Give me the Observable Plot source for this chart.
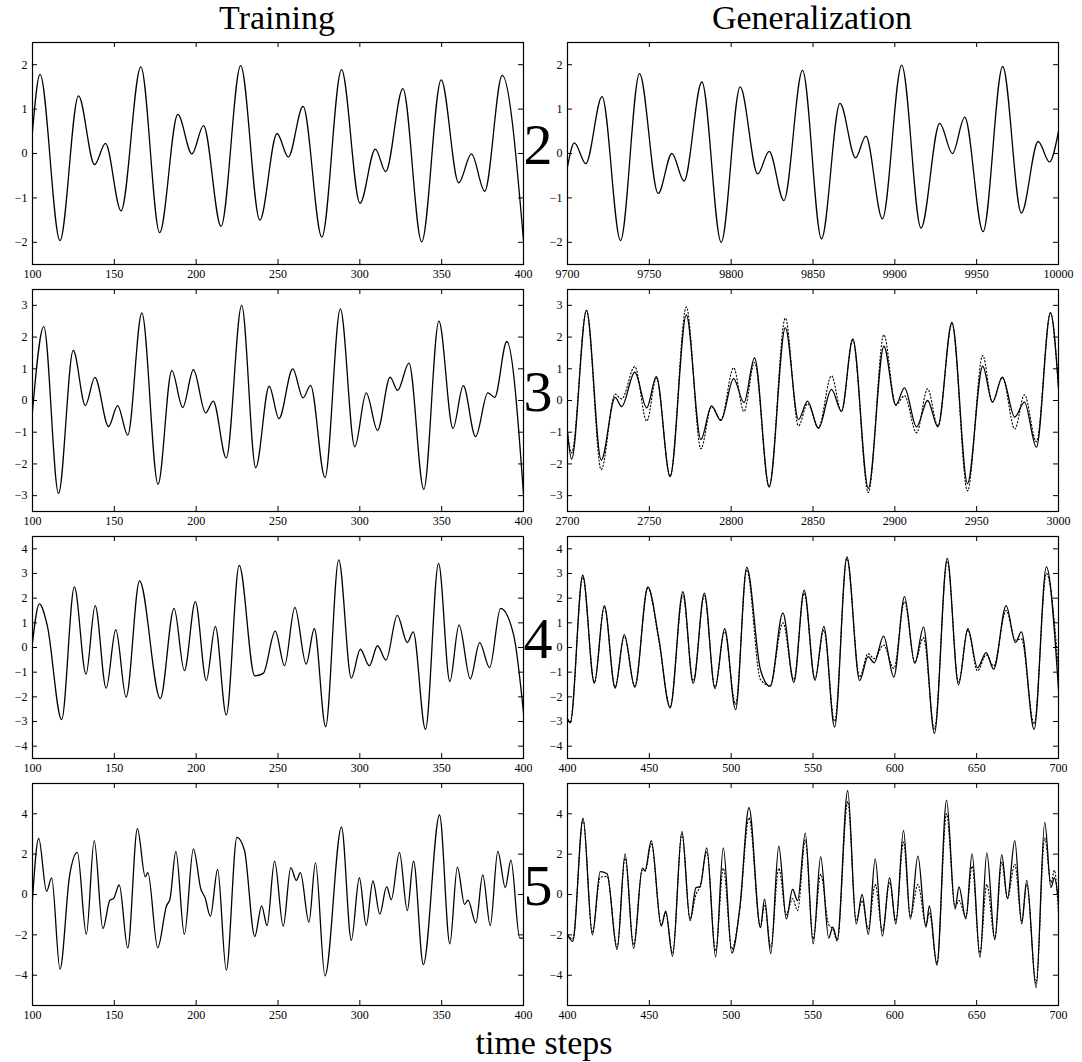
<!DOCTYPE html>
<html><head><meta charset="utf-8">
<script src="https://cdn.jsdelivr.net/npm/d3@7"></script>
<script src="https://cdn.jsdelivr.net/npm/@observablehq/plot@0.6"></script>
<style>
body{margin:0;background:#fff;}
#chart{position:relative;width:1082px;height:1062px;font-family:"Liberation Serif","Times New Roman",serif;color:#000;overflow:hidden;}
.lbl{position:absolute;white-space:nowrap;line-height:1;}
svg{position:absolute;}
</style></head><body><div id="chart"></div>
<script>
// ---------- titles ----------
const columnTitles = ["Training", "Generalization"];
const rowLabels = ["2", "3", "4", "5"];
const xAxisTitle = "time steps";

// ---------- tick values ----------
const trainXTicks = [100, 150, 200, 250, 300, 350, 400];
const gen2XTicks = [9700, 9750, 9800, 9850, 9900, 9950, 10000];
const gen3XTicks = [2700, 2750, 2800, 2850, 2900, 2950, 3000];
const gen45XTicks = [400, 450, 500, 550, 600, 650, 700];
const y2Ticks = [-2, -1, 0, 1, 2];
const y3Ticks = [-3, -2, -1, 0, 1, 2, 3];
const y4Ticks = [-4, -3, -2, -1, 0, 1, 2, 3, 4];
const y5Ticks = [-4, -2, 0, 2, 4];

// ---------- row "2" ----------
const train2T = [100, 104.6, 116.8, 128.1, 137.9, 144.6, 154.1, 166.2, 177.7, 188.8, 197.4, 204.5, 215.2, 227.2, 238.9, 249.4, 256.3, 265.3, 276.8, 288.8, 300.1, 309.5, 315.8, 326.3, 337.8, 349.7, 360.4, 368.2, 376.3, 387.0, 400];
const train2Y = [0.5, 1.78, -1.96, 1.30, -0.25, 0.23, -1.29, 1.95, -1.78, 0.88, -0.01, 0.63, -1.64, 1.98, -1.50, 0.45, -0.08, 1.06, -1.88, 1.89, -1.12, 0.10, -0.41, 1.46, -1.99, 1.66, -0.66, -0.01, -0.85, 1.76, -1.96];
const gen2T = [9700, 9704.2, 9711.2, 9721.1, 9732.4, 9744.0, 9755.4, 9763.8, 9771.2, 9782.1, 9793.9, 9805.5, 9816.2, 9823.2, 9832.2, 9843.6, 9855.2, 9866.5, 9876.0, 9882.3, 9892.4, 9904.2, 9916.0, 9927.4, 9935.2, 9942.7, 9953.9, 9965.9, 9977.3, 9987.6, 9994.5, 10000];
const gen2Y = [-0.30, 0.24, -0.23, 1.28, -1.96, 1.80, -0.90, 0.0, -0.62, 1.61, -2.0, 1.50, -0.46, 0.05, -1.06, 1.87, -1.92, 1.13, -0.10, 0.39, -1.47, 1.99, -1.68, 0.68, 0.0, 0.82, -1.76, 1.96, -1.34, 0.27, -0.19, 0.50];

// ---------- row "3" ----------
const train3T = [100, 106.9, 115.9, 124.9, 132.3, 138.1, 146.5, 152.0, 158.2, 166.8, 176.7, 185.1, 191.8, 198.3, 205.8, 210.4, 218.4, 227.8, 236.4, 244.6, 250.6, 259.0, 265.3, 269.9, 278.7, 288.1, 296.9, 303.9, 310.8, 318.5, 323.1, 330.0, 339.1, 348.3, 356.9, 363.2, 370.7, 378.2, 382.4, 389.8, 400];
const train3Y = [-0.33, 2.33, -2.93, 1.58, -0.16, 0.73, -0.82, -0.16, -1.09, 2.76, -2.64, 0.94, -0.22, 0.97, -0.39, -0.02, -1.81, 3.0, -2.12, 0.45, -0.57, 1.0, 0.08, 0.48, -2.43, 2.89, -1.46, 0.24, -0.94, 0.74, 0.32, 1.18, -2.80, 2.50, -0.88, 0.47, -1.14, 0.24, 0.10, 1.86, -2.95];
const gen3T = [2700, 2702.5, 2711.6, 2720.6, 2729.1, 2733.1, 2741.1, 2748.4, 2754.3, 2762.7, 2772.6, 2781.5, 2788.0, 2793.7, 2801.5, 2807.8, 2814.3, 2823.2, 2833.1, 2841.1, 2846.7, 2853.3, 2861.3, 2867.4, 2874.3, 2883.8, 2893.3, 2900.6, 2905.9, 2913.3, 2920.0, 2926.3, 2934.9, 2944.4, 2953.7, 2959.6, 2965.7, 2973.3, 2979.2, 2986.5, 2995.1, 3000];
const gen3Y = [-1.0, -1.85, 2.84, -1.88, 0.10, -0.19, 0.89, -0.23, 0.75, -2.40, 2.70, -1.23, -0.17, -0.63, 0.69, -0.07, 1.34, -2.72, 2.30, -0.60, -0.02, -0.88, 0.35, -0.34, 1.94, -2.77, 1.71, -0.14, 0.40, -0.83, 0.0, -0.83, 2.46, -2.62, 1.08, -0.05, 0.74, -0.52, -0.05, -1.47, 2.77, 0.40];
const gen3Target = [-1.0, -1.65, 2.84, -2.18, 0.20, 0.05, 1.07, -0.65, 0.70, -2.38, 2.95, -1.52, -0.20, -0.60, 1.03, -0.35, 1.20, -2.72, 2.60, -0.80, -0.10, -0.85, 0.78, -0.35, 1.90, -2.90, 2.07, -0.15, 0.15, -1.02, 0.37, -0.80, 2.42, -2.85, 1.42, -0.05, 0.72, -0.90, 0.18, -1.30, 2.75, 0.40];

// ---------- row "4" ----------
const train4T = [100, 104.2, 109.0, 117.8, 125.6, 132.7, 138.3, 145.0, 150.9, 157.2, 165.4, 178.1, 186.5, 192.8, 199.5, 206.2, 211.7, 218.4, 226.3, 235.8, 241.0, 248.3, 254.0, 260.3, 267.2, 272.2, 279.1, 287.1, 294.8, 300.3, 305.8, 310.8, 316.0, 322.9, 329.0, 332.6, 340.1, 348.1, 355.0, 360.6, 367.5, 373.2, 379.3, 386.0, 394.0, 400];
const train4Y = [0.2, 1.77, 0.9, -2.92, 2.46, -1.08, 1.70, -1.65, 0.72, -2.01, 2.70, -2.07, 1.59, -0.94, 1.86, -1.34, 0.86, -2.74, 3.33, -1.15, -1.05, 0.66, -0.74, 1.63, -0.67, 0.76, -3.21, 3.55, -1.24, -0.07, -0.74, 0.07, -0.51, 1.30, 0.20, 0.63, -3.32, 3.41, -1.38, 0.92, -1.27, 0.20, -0.82, 1.59, 0.5, -2.65];
const gen4T = [400, 401.7, 409.3, 416.4, 422.5, 429.1, 434.7, 441.1, 449.1, 455.8, 462.7, 470.5, 476.8, 483.6, 490.1, 496.0, 502.7, 509.5, 517.9, 523.8, 531.6, 538.3, 544.6, 551.2, 556.6, 563.2, 570.7, 578.5, 583.6, 587.4, 593.1, 599.4, 605.9, 612.2, 617.5, 624.2, 632.0, 638.9, 644.6, 650.5, 655.8, 660.4, 668.0, 673.7, 677.3, 685.1, 692.6, 700];
const gen4Y = [-2.9, -3.05, 2.93, -1.45, 1.70, -1.65, 0.52, -1.61, 2.46, 0.36, -2.45, 2.26, -1.45, 2.20, -1.67, 0.76, -2.52, 3.25, -0.90, -1.58, 1.40, -1.41, 2.33, -1.33, 0.86, -3.23, 3.67, -1.34, -0.37, -0.62, 0.46, -1.20, 2.06, -0.64, 0.83, -3.48, 3.61, -1.51, 0.76, -0.82, -0.21, -0.88, 1.70, 0.20, 0.63, -3.32, 3.27, -1.71];
const gen4Target = [-2.9, -3.0, 2.85, -1.4, 1.65, -1.6, 0.45, -1.55, 2.4, 0.3, -2.4, 2.1, -1.35, 2.1, -1.6, 0.65, -2.3, 3.15, -1.3, -1.55, 1.0, -1.3, 2.2, -1.25, 0.7, -3.0, 3.6, -1.2, -0.25, -0.45, 0.1, -0.85, 1.85, -0.6, 0.4, -3.3, 3.5, -1.4, 0.7, -0.95, -0.3, -0.75, 1.5, 0.3, 0.35, -3.1, 3.0, -0.9];

// ---------- row "5" ----------
const train5T = [100, 103.8, 108.6, 111.7, 116.8, 122.6, 127.4, 132.9, 137.7, 143.0, 147.3, 149.5, 153.0, 158.2, 164.1, 168.9, 170.5, 176.5, 181.9, 184.0, 187.6, 192.8, 198.3, 202.9, 205.4, 208.7, 213.1, 218.4, 224.9, 229.5, 235.8, 240.0, 243.3, 247.9, 253.2, 257.8, 261.2, 263.7, 268.9, 272.9, 278.7, 288.8, 294.8, 299.7, 303.9, 308.0, 312.2, 316.4, 319.2, 324.2, 329.0, 332.8, 338.8, 348.7, 355.0, 359.6, 364.0, 366.1, 370.9, 375.1, 379.7, 384.3, 388.9, 392.3, 397.7, 400];
const train5Y = [-0.23, 2.78, 0.15, 0.82, -3.70, 0.90, 2.09, -1.98, 2.67, -1.69, -0.28, -0.20, 0.47, -2.65, 3.26, 0.88, 1.08, -2.64, -0.56, -0.23, 2.14, -1.98, 2.26, 0.26, -0.15, -1.08, 1.24, -3.75, 2.83, 2.19, -2.08, -0.56, -1.54, 1.65, -1.57, 1.33, 0.70, 1.08, -1.37, 1.57, -4.03, 3.34, -2.27, 0.83, -1.54, 0.67, -0.97, 0.39, -0.26, 2.09, -0.80, 1.65, -3.47, 3.94, -2.44, 1.36, -0.49, -0.28, -1.41, 0.97, -1.54, 2.14, 0.34, 1.70, -2.16, -2.16];
const gen5T = [400, 403.2, 409.5, 415.2, 420.0, 424.2, 430.3, 435.2, 440.4, 445.7, 447.4, 451.2, 457.3, 460.0, 464.2, 469.9, 474.9, 478.5, 481.0, 485.1, 490.5, 495.2, 500.4, 505.3, 510.9, 517.9, 520.4, 524.2, 529.1, 533.7, 537.5, 540.6, 545.3, 550.1, 554.7, 559.6, 562.1, 564.8, 571.2, 576.4, 580.0, 583.8, 588.0, 592.4, 596.8, 600.6, 605.3, 609.5, 614.1, 619.0, 621.1, 625.7, 631.6, 636.8, 639.2, 643.4, 647.2, 652.0, 656.2, 661.1, 665.3, 668.8, 673.3, 677.5, 680.6, 686.3, 691.6, 695.4, 697.5, 700];
const gen5Y = [-2.0, -2.32, 3.78, -2.0, 1.13, 1.03, -2.73, 2.01, -2.68, 1.31, 1.19, 2.67, -1.57, -0.83, -3.06, 3.13, -1.29, 0.34, 0.39, 2.31, -3.09, 2.31, -2.90, -0.64, 4.30, -1.64, -0.23, -2.93, 2.39, -1.21, 0.26, -0.31, 3.04, -2.44, 1.87, -2.16, -1.62, -2.24, 5.14, -1.46, 0.0, -1.98, 1.77, -2.06, 0.83, -1.46, 3.18, -1.21, 1.90, -1.62, -0.56, -3.50, 4.68, -0.72, 0.38, -1.21, 2.01, -3.13, 2.06, -2.23, 1.98, -0.20, 2.67, -1.46, 0.70, -4.62, 3.57, 0.34, 0.83, -0.31];
const gen5Target = [-2.0, -2.2, 3.7, -1.9, 0.85, 0.9, -2.6, 1.8, -2.5, 1.2, 1.15, 2.5, -1.5, -0.9, -2.9, 3.0, -1.2, 0.0, 0.4, 2.1, -2.8, 1.3, -2.7, -0.7, 3.8, -1.6, -0.5, -2.6, 1.3, -1.0, -0.2, -0.8, 2.7, -2.2, 1.0, -1.5, -1.7, -2.3, 4.6, -1.3, -0.3, -1.7, 0.5, -1.8, 0.6, -1.3, 2.6, -1.1, 0.5, -1.5, -0.9, -3.4, 4.0, -0.6, -0.3, -1.1, 1.4, -2.9, 0.5, -2.2, 1.6, -0.2, 1.5, -1.3, 0.5, -4.4, 2.8, 0.6, 1.2, -1.0];

// ---------- assembly ----------
const rows = [
  {label: rowLabels[0], yDomain: [-2.5, 2.5], yTicks: y2Ticks,
   train: {t: train2T, y: train2Y, xDomain: [100, 400], xTicks: trainXTicks},
   gen: {t: gen2T, y: gen2Y, target: null, xDomain: [9700, 10000], xTicks: gen2XTicks}},
  {label: rowLabels[1], yDomain: [-3.5, 3.5], yTicks: y3Ticks,
   train: {t: train3T, y: train3Y, xDomain: [100, 400], xTicks: trainXTicks},
   gen: {t: gen3T, y: gen3Y, target: gen3Target, xDomain: [2700, 3000], xTicks: gen3XTicks}},
  {label: rowLabels[2], yDomain: [-4.5, 4.5], yTicks: y4Ticks,
   train: {t: train4T, y: train4Y, xDomain: [100, 400], xTicks: trainXTicks},
   gen: {t: gen4T, y: gen4Y, target: gen4Target, xDomain: [400, 700], xTicks: gen45XTicks}},
  {label: rowLabels[3], yDomain: [-5.5, 5.5], yTicks: y5Ticks,
   train: {t: train5T, y: train5Y, xDomain: [100, 400], xTicks: trainXTicks},
   gen: {t: gen5T, y: gen5Y, target: gen5Target, xDomain: [400, 700], xTicks: gen45XTicks}}
];

const container = document.getElementById("chart");
const FONT = "Liberation Serif, Times New Roman, serif";
const frameH = 222, mTop = 4, mBottom = 24;
const rowTops = [42, 289, 536, 783];
const fmt = d3.format("d");

function makePanel(series, row, side) {
  const W = 541;
  const mLeft = side === 0 ? 32 : 26;
  const mRight = side === 0 ? 18 : 24;
  const innerW = W - mLeft - mRight;
  const pts = series.t.map((t, i) => ({t, v: series.y[i]}));
  const marks = [];
  if (series.target) {
    const tpts = series.t.map((t, i) => ({t, v: series.target[i]}));
    marks.push(Plot.line(tpts, {x: "t", y: "v", curve: "monotone-x", stroke: "black", strokeWidth: 1.1, strokeDasharray: "1.3,2.2", clip: true}));
  }
  marks.push(Plot.line(pts, {x: "t", y: "v", curve: "monotone-x", stroke: "black", strokeWidth: 1.3, clip: true}));
  const xt = series.xTicks, yt = row.yTicks;
  marks.push(
    Plot.ruleX(xt, {x: d => d, insetTop: frameH - 5, stroke: "black"}),
    Plot.ruleX(xt, {x: d => d, insetBottom: frameH - 5, stroke: "black"}),
    Plot.ruleY(yt, {y: d => d, insetRight: innerW - 5, stroke: "black"}),
    Plot.ruleY(yt, {y: d => d, insetLeft: innerW - 5, stroke: "black"}),
    Plot.frame({stroke: "black", strokeWidth: 1.2}),
    Plot.axisX(xt, {tickSize: 0, tickPadding: 5, fontSize: 12, tickFormat: fmt, label: null}),
    Plot.axisY(yt, {tickSize: 0, tickPadding: 5, fontSize: 12, tickFormat: fmt, label: null})
  );
  const svg = Plot.plot({
    width: W, height: frameH + mTop + mBottom,
    marginLeft: mLeft, marginRight: mRight, marginTop: mTop, marginBottom: mBottom,
    x: {domain: series.xDomain},
    y: {domain: row.yDomain},
    style: {background: "transparent", overflow: "visible", fontFamily: FONT, fontSize: "12px", color: "black"},
    marks
  });
  svg.style.left = (side === 0 ? 0 : 541) + "px";
  svg.style.top = (rowTops[rows.indexOf(row)] - mTop) + "px";
  container.appendChild(svg);
}

rows.forEach(row => { makePanel(row.train, row, 0); makePanel(row.gen, row, 1); });

function addText(txt, cx, top, size) {
  const d = document.createElement("div");
  d.className = "lbl";
  d.textContent = txt;
  d.style.fontSize = size + "px";
  d.style.left = cx + "px";
  d.style.top = top + "px";
  d.style.transform = "translateX(-50%)";
  container.appendChild(d);
}
addText(columnTitles[0], 277, 1, 34);
addText(columnTitles[1], 812, 1, 34);
rows.forEach((row, i) => addText(row.label, 538, rowTops[i] + frameH / 2 - 37, 58));
addText(xAxisTitle, 544, 1026, 34);
</script></body></html>
